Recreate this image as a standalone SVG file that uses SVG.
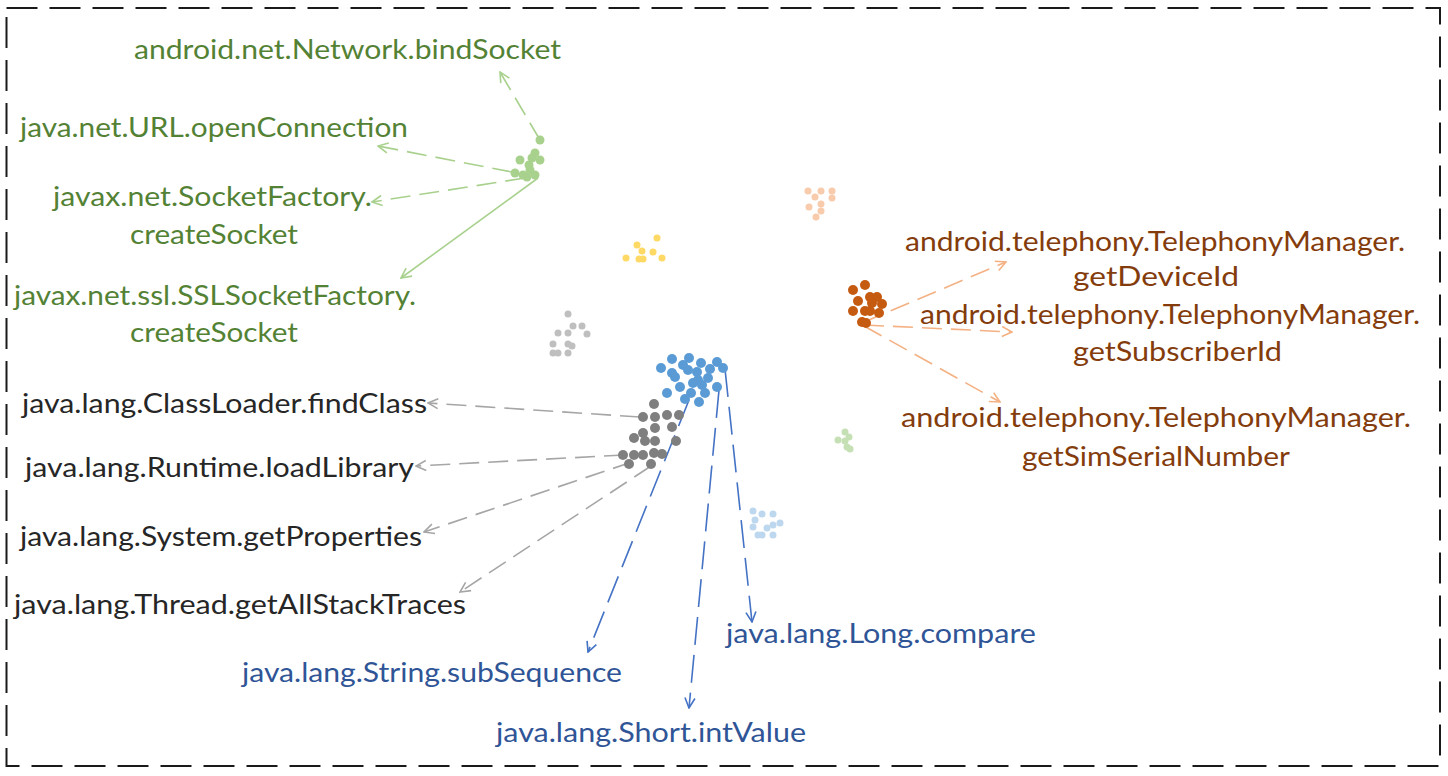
<svg xmlns="http://www.w3.org/2000/svg" width="1448" height="776" viewBox="0 0 1448 776">
<defs>
<style>
text{font-family:Lato,"Open Sans","Liberation Sans",sans-serif;font-size:26px}
.tg{fill:#548235}.tb{fill:#843C0C}.tu{fill:#2F5597}.tk{fill:#262626}
.cg{stroke:#A9D18E}.cb{stroke:#F4B183}.cu{stroke:#4472C4}.ck{stroke:#A6A6A6}
.ln{fill:none;stroke-width:1.6}
.d1{stroke-dasharray:20 9}.d2{stroke-dasharray:28 10}
</style>
<marker id="ag" viewBox="0 0 12 12" refX="11" refY="6" markerWidth="12" markerHeight="12" markerUnits="userSpaceOnUse" orient="auto"><path d="M1,1 L11,6 L1,11" fill="none" stroke="#A9D18E" stroke-width="1.6"/></marker>
<marker id="ab" viewBox="0 0 12 12" refX="11" refY="6" markerWidth="12" markerHeight="12" markerUnits="userSpaceOnUse" orient="auto"><path d="M1,1 L11,6 L1,11" fill="none" stroke="#F4B183" stroke-width="1.6"/></marker>
<marker id="au" viewBox="0 0 12 12" refX="11" refY="6" markerWidth="12" markerHeight="12" markerUnits="userSpaceOnUse" orient="auto"><path d="M1,1 L11,6 L1,11" fill="none" stroke="#4472C4" stroke-width="1.6"/></marker>
<marker id="ak" viewBox="0 0 12 12" refX="11" refY="6" markerWidth="12" markerHeight="12" markerUnits="userSpaceOnUse" orient="auto"><path d="M1,1 L11,6 L1,11" fill="none" stroke="#A6A6A6" stroke-width="1.6"/></marker>
</defs>
<rect width="1448" height="776" fill="#ffffff"/>
<rect x="6.5" y="8" width="1433.5" height="758" fill="none" stroke="#1a1a1a" stroke-width="2" stroke-dasharray="31 12"/>

<g id="connectors">
<line class="ln cg d1" x1="540" y1="140" x2="500" y2="72" marker-end="url(#ag)"/>
<line class="ln cg d1" x1="512" y1="172" x2="378" y2="146" marker-end="url(#ag)"/>
<line class="ln cg d1" x1="525" y1="178" x2="372" y2="202" marker-end="url(#ag)"/>
<line class="ln cg" x1="538" y1="178" x2="401" y2="278" marker-end="url(#ag)"/>
<line class="ln ck d1" x1="640" y1="417" x2="428" y2="403" marker-end="url(#ak)"/>
<line class="ln ck d1" x1="624" y1="455" x2="416" y2="466" marker-end="url(#ak)"/>
<line class="ln ck d1" x1="632" y1="462" x2="424" y2="532" marker-end="url(#ak)"/>
<line class="ln ck d1" x1="651" y1="466" x2="460" y2="592" marker-end="url(#ak)"/>
<line class="ln cu d2" x1="689" y1="400" x2="588" y2="652" marker-end="url(#au)"/>
<line class="ln cu d2" x1="719" y1="390" x2="689" y2="708" marker-end="url(#au)"/>
<line class="ln cu d2" x1="725" y1="369" x2="752" y2="622" marker-end="url(#au)"/>
<line class="ln cb d1" x1="864" y1="322" x2="1006" y2="262" marker-end="url(#ab)"/>
<line class="ln cb d1" x1="864" y1="325" x2="1012" y2="332" marker-end="url(#ab)"/>
<line class="ln cb d1" x1="864" y1="326" x2="1000" y2="402" marker-end="url(#ab)"/>
</g>

<g id="cluster-green" fill="#A9D18E">
<circle cx="540" cy="140" r="4.5"/><circle cx="535" cy="153" r="4.5"/><circle cx="520" cy="160" r="4.5"/><circle cx="532" cy="158" r="4.5"/><circle cx="540" cy="160" r="4.5"/><circle cx="529" cy="165" r="4.5"/><circle cx="515" cy="173" r="4.5"/><circle cx="523" cy="175" r="4.5"/><circle cx="530" cy="170" r="4.5"/><circle cx="535" cy="175" r="4.5"/><circle cx="527" cy="177" r="4.5"/>
</g>
<g id="cluster-yellow" fill="#FFD966">
<circle cx="657" cy="238" r="3.5"/><circle cx="637" cy="245" r="3.5"/><circle cx="642" cy="251" r="3.5"/><circle cx="653" cy="252" r="3.5"/><circle cx="626" cy="258" r="3.5"/><circle cx="639" cy="259" r="3.5"/><circle cx="643" cy="259" r="3.5"/><circle cx="662" cy="258" r="3.5"/>
</g>
<g id="cluster-peach" fill="#F8CBAD">
<circle cx="808" cy="191" r="3.5"/><circle cx="821" cy="191" r="3.5"/><circle cx="832" cy="191" r="3.5"/><circle cx="815" cy="197" r="3.5"/><circle cx="832" cy="198" r="3.5"/><circle cx="809" cy="207" r="3.5"/><circle cx="821" cy="204" r="3.5"/><circle cx="821" cy="211" r="3.5"/><circle cx="816" cy="217" r="3.5"/>
</g>
<g id="cluster-brown" fill="#C55A11">
<circle cx="865" cy="285" r="5"/><circle cx="853" cy="290" r="5"/><circle cx="870" cy="297" r="5"/><circle cx="877" cy="297" r="5"/><circle cx="858" cy="301" r="5"/><circle cx="882" cy="304" r="5"/><circle cx="872" cy="303" r="5"/><circle cx="853" cy="311" r="5"/><circle cx="865" cy="311" r="5"/><circle cx="870" cy="311" r="5"/><circle cx="879" cy="313" r="5"/><circle cx="862" cy="322" r="5"/><circle cx="866" cy="323" r="5"/>
</g>
<g id="cluster-lightgray" fill="#BFBFBF">
<circle cx="568" cy="314" r="3.5"/><circle cx="573" cy="326" r="3.5"/><circle cx="582" cy="326" r="3.5"/><circle cx="558" cy="333" r="3.5"/><circle cx="568" cy="333" r="3.5"/><circle cx="587" cy="334" r="3.5"/><circle cx="553" cy="344" r="3.5"/><circle cx="568" cy="344" r="3.5"/><circle cx="572" cy="346" r="3.5"/><circle cx="553" cy="353" r="3.5"/><circle cx="558" cy="353" r="3.5"/><circle cx="568" cy="353" r="3.5"/>
</g>
<g id="cluster-blue" fill="#5B9BD5">
<circle cx="672" cy="359" r="5"/><circle cx="689" cy="358" r="5"/><circle cx="683" cy="365" r="5"/><circle cx="701" cy="363" r="5"/><circle cx="717" cy="362" r="5"/><circle cx="661" cy="368" r="5"/><circle cx="688" cy="370" r="5"/><circle cx="697" cy="372" r="5"/><circle cx="710" cy="369" r="5"/><circle cx="723" cy="368" r="5"/><circle cx="672" cy="373" r="5"/><circle cx="675" cy="377" r="5"/><circle cx="698" cy="380" r="5"/><circle cx="708" cy="378" r="5"/><circle cx="693" cy="383" r="5"/><circle cx="702" cy="385" r="5"/><circle cx="680" cy="387" r="5"/><circle cx="717" cy="387" r="5"/><circle cx="667" cy="393" r="5"/><circle cx="691" cy="393" r="5"/><circle cx="705" cy="393" r="5"/><circle cx="685" cy="399" r="5"/><circle cx="699" cy="402" r="5"/>
</g>
<g id="cluster-gray" fill="#7F7F7F">
<circle cx="654" cy="404" r="5"/><circle cx="643" cy="417" r="5"/><circle cx="655" cy="417" r="5"/><circle cx="667" cy="415" r="5"/><circle cx="679" cy="415" r="5"/><circle cx="655" cy="428" r="5"/><circle cx="672" cy="427" r="5"/><circle cx="634" cy="438" r="5"/><circle cx="643" cy="433" r="5"/><circle cx="645" cy="441" r="5"/><circle cx="655" cy="441" r="5"/><circle cx="676" cy="441" r="5"/><circle cx="623" cy="455" r="5"/><circle cx="634" cy="455" r="5"/><circle cx="643" cy="455" r="5"/><circle cx="654" cy="453" r="5"/><circle cx="662" cy="454" r="5"/><circle cx="629" cy="464" r="5"/><circle cx="651" cy="464" r="5"/>
</g>
<g id="cluster-lightblue" fill="#BDD7EE">
<circle cx="753" cy="511" r="3.5"/><circle cx="762" cy="514" r="3.5"/><circle cx="773" cy="514" r="3.5"/><circle cx="755" cy="520" r="3.5"/><circle cx="753" cy="527" r="3.5"/><circle cx="767" cy="528" r="3.5"/><circle cx="773" cy="525" r="3.5"/><circle cx="780" cy="523" r="3.5"/><circle cx="758" cy="535" r="3.5"/><circle cx="762" cy="535" r="3.5"/><circle cx="773" cy="535" r="3.5"/>
</g>
<g id="cluster-lightgreen" fill="#C5E0B4">
<circle cx="845" cy="432" r="3.5"/><circle cx="849" cy="437" r="3.5"/><circle cx="838" cy="440" r="3.5"/><circle cx="845" cy="441" r="3.5"/><circle cx="847" cy="447" r="3.5"/><circle cx="850" cy="449" r="3.5"/>
</g>

<g id="label-bindSocket"><text class="tg" x="134" y="59" textLength="427" lengthAdjust="spacingAndGlyphs">android.net.Network.bindSocket</text></g>
<g id="label-openConnection"><text class="tg" x="20" y="137" textLength="388" lengthAdjust="spacingAndGlyphs">java.net.URL.openConnection</text></g>
<g id="label-SocketFactory"><text class="tg" x="53" y="206" textLength="319" lengthAdjust="spacingAndGlyphs">javax.net.SocketFactory.</text><text class="tg" x="130" y="244" textLength="168" lengthAdjust="spacingAndGlyphs">createSocket</text></g>
<g id="label-SSLSocketFactory"><text class="tg" x="14" y="305" textLength="402" lengthAdjust="spacingAndGlyphs">javax.net.ssl.SSLSocketFactory.</text><text class="tg" x="130" y="342" textLength="168" lengthAdjust="spacingAndGlyphs">createSocket</text></g>
<g id="label-findClass"><text class="tk" x="22" y="413" textLength="405" lengthAdjust="spacingAndGlyphs">java.lang.ClassLoader.findClass</text></g>
<g id="label-loadLibrary"><text class="tk" x="25" y="477" textLength="389" lengthAdjust="spacingAndGlyphs">java.lang.Runtime.loadLibrary</text></g>
<g id="label-getProperties"><text class="tk" x="20" y="546" textLength="402" lengthAdjust="spacingAndGlyphs">java.lang.System.getProperties</text></g>
<g id="label-getAllStackTraces"><text class="tk" x="14" y="614" textLength="452" lengthAdjust="spacingAndGlyphs">java.lang.Thread.getAllStackTraces</text></g>
<g id="label-subSequence"><text class="tu" x="242" y="682" textLength="380" lengthAdjust="spacingAndGlyphs">java.lang.String.subSequence</text></g>
<g id="label-intValue"><text class="tu" x="496" y="742" textLength="310" lengthAdjust="spacingAndGlyphs">java.lang.Short.intValue</text></g>
<g id="label-compare"><text class="tu" x="726" y="643" textLength="310" lengthAdjust="spacingAndGlyphs">java.lang.Long.compare</text></g>
<g id="label-getDeviceId"><text class="tb" x="905" y="251" textLength="500" lengthAdjust="spacingAndGlyphs">android.telephony.TelephonyManager.</text><text class="tb" x="1073" y="286" textLength="166" lengthAdjust="spacingAndGlyphs">getDeviceId</text></g>
<g id="label-getSubscriberId"><text class="tb" x="920" y="324" textLength="500" lengthAdjust="spacingAndGlyphs">android.telephony.TelephonyManager.</text><text class="tb" x="1073" y="361" textLength="209" lengthAdjust="spacingAndGlyphs">getSubscriberId</text></g>
<g id="label-getSimSerialNumber"><text class="tb" x="901" y="427" textLength="510" lengthAdjust="spacingAndGlyphs">android.telephony.TelephonyManager.</text><text class="tb" x="1022" y="466" textLength="268" lengthAdjust="spacingAndGlyphs">getSimSerialNumber</text></g>
</svg>
